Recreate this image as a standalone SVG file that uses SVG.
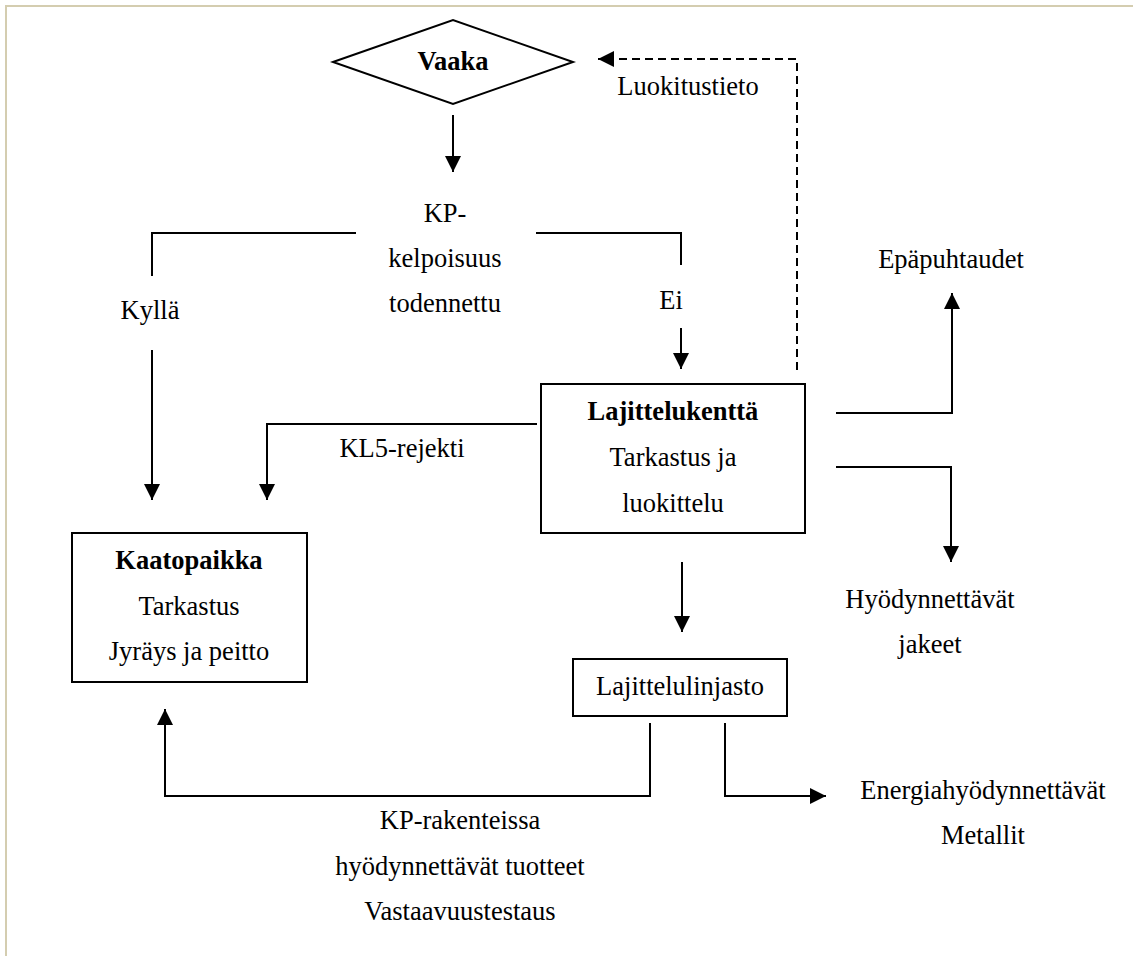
<svg xmlns="http://www.w3.org/2000/svg" width="1133" height="956" viewBox="0 0 1133 956">
<style>
text{font-size:26.5px;fill:#000;text-anchor:middle}
.b{font-weight:bold}
.box{fill:#fff;stroke:#000;stroke-width:2}
.ln{fill:none;stroke:#000;stroke-width:2}
.arr{marker-end:url(#ah)}
.dash{stroke-dasharray:8 5}
.border{fill:none;stroke:#d4cdb0;stroke-width:2}
</style>
<defs>
<marker id="ah" viewBox="0 0 16 16" refX="16" refY="8" markerWidth="16" markerHeight="16" markerUnits="userSpaceOnUse" orient="auto">
<path d="M0,0 L16,8 L0,16 z" fill="#000"/>
</marker>
</defs>
<rect width="1133" height="956" fill="#fff"/>
<path class="border" d="M6,956 V6 H1133"/>
<g font-family="Liberation Serif, DejaVu Serif, serif">
<g id="vaaka">
<polygon class="box" points="333,62 453,20 573,62 453,104"/>
<text class="b" x="453" y="70">Vaaka</text>
</g>

<g id="kp-kelpoisuus">
<text x="445" y="222">KP-</text>
<text x="445" y="267">kelpoisuus</text>
<text x="445" y="312">todennettu</text>
</g>

<g id="kylla"><text x="150" y="319">Kyllä</text></g>
<g id="ei"><text x="671" y="309">Ei</text></g>

<g id="lajittelukentta">
<rect class="box" x="541" y="384" width="264" height="149"/>
<text class="b" x="673" y="420">Lajittelukenttä</text>
<text x="673" y="466">Tarkastus ja</text>
<text x="673" y="512">luokittelu</text>
</g>

<g id="kaatopaikka">
<rect class="box" x="72" y="533" width="235" height="149"/>
<text class="b" x="189" y="569">Kaatopaikka</text>
<text x="189" y="615">Tarkastus</text>
<text x="189" y="660">Jyräys ja peitto</text>
</g>

<g id="lajittelulinjasto">
<rect class="box" x="573" y="659" width="214" height="57"/>
<text x="680" y="695">Lajittelulinjasto</text>
</g>

<g id="epapuhtaudet"><text x="951" y="268">Epäpuhtaudet</text></g>
<g id="hyodynnettavat-jakeet">
<text x="930" y="608">Hyödynnettävät</text>
<text x="930" y="653">jakeet</text>
</g>
<g id="energia">
<text x="983" y="799">Energiahyödynnettävät</text>
<text x="983" y="844">Metallit</text>
</g>
<g id="kp-rakenteissa">
<text x="460" y="829">KP-rakenteissa</text>
<text x="460" y="875">hyödynnettävät tuotteet</text>
<text x="460" y="920">Vastaavuustestaus</text>
</g>

<g id="connectors">
<line class="ln arr" x1="453" y1="115" x2="453" y2="172"/>
<path class="ln" d="M356,233 H152 V276"/>
<path class="ln" d="M536,233 H681 V265"/>
<line class="ln arr" x1="152" y1="350" x2="152" y2="500"/>
<line class="ln arr" x1="681" y1="328" x2="681" y2="369"/>
<path class="ln arr" d="M537,424 H267 V500"/>
<path class="ln dash arr" d="M797,370 V59 H598"/>
<text x="688" y="95">Luokitustieto</text>
<text x="402" y="457">KL5-rejekti</text>
<path class="ln arr" d="M836,413 H952 V293"/>
<path class="ln arr" d="M836,467 H951 V562"/>
<line class="ln arr" x1="682" y1="562" x2="682" y2="632"/>
<path class="ln arr" d="M650,723 V796 H165 V709"/>
<path class="ln arr" d="M725,723 V796 H826"/>
</g>
</g>
</svg>
